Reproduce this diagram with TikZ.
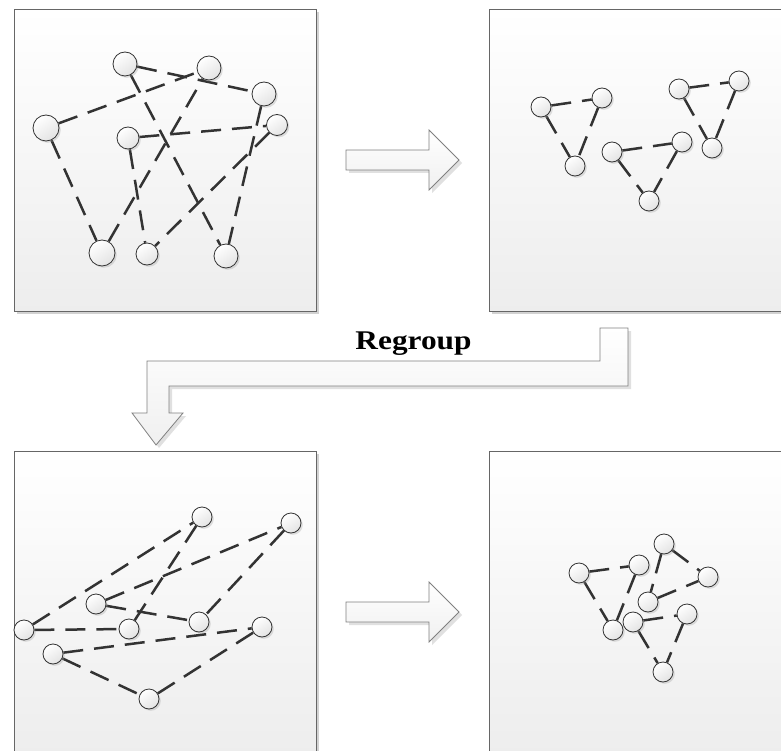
\documentclass[tikz,border=0pt]{standalone}
\usepackage{fontspec}
\setmainfont{Liberation Serif}
\usetikzlibrary{shadows}
\pgfdeclarelayer{panels}
\pgfdeclarelayer{links}
\pgfsetlayers{panels,links,main}

\tikzset{
  panel/.style={draw=black!60, line width=0.9pt, top color=white, bottom color=gray!14,
    drop shadow={shadow xshift=3pt, shadow yshift=-3pt, fill=black!35, opacity=0.5}},
  vtx/.style={circle, draw=black!80, line width=0.8pt, inner sep=0pt, minimum size=20pt,
    top color=white, bottom color=gray!22, shading angle=35,
    drop shadow={shadow xshift=1.8pt, shadow yshift=-1.8pt, fill=black!40, opacity=0.3}},
  link/.style={draw=black!80, line width=2.5pt, dash pattern=on 20pt off 11pt},
  blockarrow/.style={draw=black!50, line width=0.8pt, top color=white, bottom color=gray!12,
    drop shadow={shadow xshift=3pt, shadow yshift=-3pt, fill=black!30, opacity=0.4}},
}

\begin{document}
\begin{tikzpicture}[x=1pt, y=-1pt]
  \useasboundingbox (0,0) rectangle (781,751);

  % four framed panels (the right and lower ones run past the page edge)
  \begin{pgfonlayer}{panels}
    \clip (0,0) rectangle (781,751);
    \path[panel] (14,9) rectangle (316,311);
    \path[panel] (489,9) rectangle (791,311);
    \path[panel] (14,451) rectangle (316,753);
    \path[panel] (489,451) rectangle (791,753);
  \end{pgfonlayer}

  % ---- upper left: scattered graph ----
  \node[vtx, minimum size=24pt] (A) at (125,64) {};
  \node[vtx, minimum size=24pt] (B) at (209,68) {};
  \node[vtx, minimum size=24pt] (C) at (264,94) {};
  \node[vtx, minimum size=26pt] (D) at (46,128) {};
  \node[vtx, minimum size=22pt] (E) at (128,138) {};
  \node[vtx, minimum size=21pt] (F) at (277,125) {};
  \node[vtx, minimum size=26pt] (G) at (102,253) {};
  \node[vtx, minimum size=22pt] (H) at (147,254) {};
  \node[vtx, minimum size=24pt] (I) at (226,256) {};

  % ---- upper right: three triangles ----
  \node[vtx] (t1) at (541,107) {};
  \node[vtx] (t2) at (602,98) {};
  \node[vtx] (t3) at (575,166) {};
  \node[vtx] (t4) at (612,152) {};
  \node[vtx] (t5) at (682,142) {};
  \node[vtx] (t6) at (649,201) {};
  \node[vtx] (t7) at (679,89) {};
  \node[vtx] (t8) at (739,81) {};
  \node[vtx] (t9) at (712,148) {};

  % ---- lower left: regrouped graph ----
  \node[vtx] (a) at (202,517) {};
  \node[vtx] (b) at (291,523) {};
  \node[vtx] (c) at (96,604) {};
  \node[vtx] (d) at (24,630) {};
  \node[vtx] (e) at (129,629) {};
  \node[vtx] (f) at (199,622) {};
  \node[vtx] (g) at (262,627) {};
  \node[vtx] (h) at (53,654) {};
  \node[vtx] (i) at (149,699) {};

  % ---- lower right: compact triangles ----
  \node[vtx] (p1) at (579,573) {};
  \node[vtx] (p2) at (639,565) {};
  \node[vtx] (p3) at (664,544) {};
  \node[vtx] (p4) at (708,577) {};
  \node[vtx] (p5) at (648,602) {};
  \node[vtx] (p6) at (613,630) {};
  \node[vtx] (p7) at (633,622) {};
  \node[vtx] (p8) at (687,614) {};
  \node[vtx] (p9) at (663,672) {};

  % dashed links, kept behind the vertices
  \begin{pgfonlayer}{links}
    \draw[link] (A) -- (C);
    \draw[link] (D) -- (B);
    \draw[link] (A) -- (I);
    \draw[link] (D) -- (G);
    \draw[link] (G) -- (B);
    \draw[link] (E) -- (F);
    \draw[link] (E) -- (H);
    \draw[link] (C) -- (I);
    \draw[link] (F) -- (H);

    \draw[link] (t1) -- (t2);
    \draw[link] (t1) -- (t3);
    \draw[link] (t2) -- (t3);
    \draw[link] (t4) -- (t5);
    \draw[link] (t4) -- (t6);
    \draw[link] (t5) -- (t6);
    \draw[link] (t7) -- (t8);
    \draw[link] (t7) -- (t9);
    \draw[link] (t8) -- (t9);

    \draw[link] (d) -- (a);
    \draw[link] (c) -- (b);
    \draw[link] (a) -- (e);
    \draw[link] (b) -- (f);
    \draw[link] (c) -- (f);
    \draw[link] (d) -- (e);
    \draw[link] (h) -- (g);
    \draw[link] (h) -- (i);
    \draw[link] (i) -- (g);

    \draw[link] (p1) -- (p2);
    \draw[link] (p1) -- (p6);
    \draw[link] (p2) -- (p6);
    \draw[link] (p3) -- (p4);
    \draw[link] (p3) -- (p5);
    \draw[link] (p5) -- (p4);
    \draw[link] (p7) -- (p8);
    \draw[link] (p7) -- (p9);
    \draw[link] (p8) -- (p9);
  \end{pgfonlayer}

  % block arrows
  \path[blockarrow] (346,150) -- (429,150) -- (429,130) -- (459,160)
        -- (429,190) -- (429,170) -- (346,170) -- cycle;
  \path[blockarrow] (346,602) -- (429,602) -- (429,582) -- (459,612)
        -- (429,642) -- (429,622) -- (346,622) -- cycle;
  \path[blockarrow] (600,328) -- (628,328) -- (628,386) -- (169,386)
        -- (169,413) -- (183,413) -- (156,445) -- (132,413) -- (147,413)
        -- (147,361) -- (600,361) -- cycle;

  \node[anchor=base, inner sep=0pt] (regroup) at (413.5,349)
    {\scalebox{1.16}[1]{\fontsize{27}{27}\selectfont\bfseries Regroup}};
\end{tikzpicture}
\end{document}
